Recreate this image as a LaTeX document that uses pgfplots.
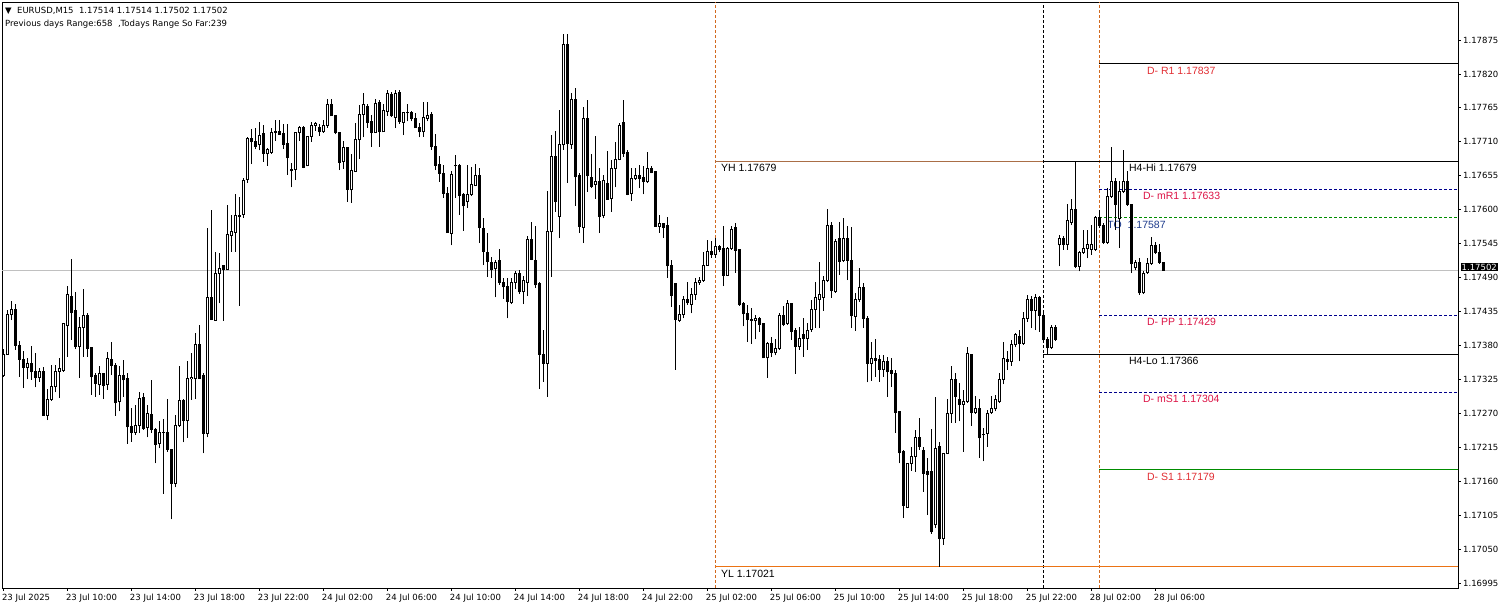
\documentclass[border=0pt]{standalone}
\usepackage{pgfplots}
\pgfplotsset{compat=1.18}
\usepackage{pgfplotstable}
\usepackage{fontspec}
\setmainfont{DejaVu Sans}
\newfontfamily\arialfont{Liberation Sans}
\definecolor{lvred}{RGB}{225,45,50}
\definecolor{lvcrim}{RGB}{220,20,70}
\definecolor{lvnavy}{RGB}{0,0,140}
\definecolor{lvgreen}{RGB}{0,140,0}
\definecolor{dayor}{RGB}{210,105,30}
\definecolor{yhcol}{RGB}{170,110,70}
\definecolor{ylcol}{RGB}{235,115,20}
\definecolor{tocol}{RGB}{30,60,140}
\definecolor{curgrey}{RGB}{192,192,192}

\pgfplotstableread{
i O H L C
0 1.17331 1.17374 1.17329 1.17366
1 1.17366 1.17437 1.17366 1.17430
2 1.17430 1.17452 1.17421 1.17439
3 1.17439 1.17447 1.17373 1.17380
4 1.17380 1.17388 1.17329 1.17358
5 1.17358 1.17371 1.17311 1.17345
6 1.17345 1.17360 1.17325 1.17351
7 1.17351 1.17379 1.17324 1.17337
8 1.17338 1.17368 1.17312 1.17328
9 1.17328 1.17344 1.17321 1.17338
10 1.17338 1.17345 1.17266 1.17267
11 1.17267 1.17309 1.17259 1.17293
12 1.17293 1.17349 1.17290 1.17313
13 1.17313 1.17348 1.17304 1.17338
14 1.17338 1.17359 1.17295 1.17342
15 1.17339 1.17417 1.17337 1.17415
16 1.17412 1.17476 1.17362 1.17463
17 1.17460 1.17520 1.17389 1.17433
18 1.17436 1.17466 1.17374 1.17378
19 1.17378 1.17426 1.17328 1.17409
20 1.17409 1.17471 1.17362 1.17428
21 1.17428 1.17432 1.17362 1.17375
22 1.17377 1.17378 1.17300 1.17329
23 1.17331 1.17336 1.17297 1.17318
24 1.17316 1.17346 1.17300 1.17335
25 1.17335 1.17335 1.17293 1.17315
26 1.17317 1.17369 1.17308 1.17359
27 1.17358 1.17385 1.17332 1.17348
28 1.17348 1.17351 1.17266 1.17287
29 1.17289 1.17346 1.17273 1.17331
30 1.17331 1.17356 1.17297 1.17324
31 1.17326 1.17335 1.17221 1.17248
32 1.17248 1.17278 1.17224 1.17239
33 1.17239 1.17284 1.17235 1.17251
34 1.17251 1.17305 1.17238 1.17294
35 1.17295 1.17303 1.17243 1.17246
36 1.17247 1.17284 1.17231 1.17270
37 1.17268 1.17324 1.17238 1.17244
38 1.17243 1.17246 1.17189 1.17220
39 1.17221 1.17258 1.17213 1.17239
40 1.17239 1.17260 1.17140 1.17239
41 1.17239 1.17293 1.17208 1.17212
42 1.17211 1.17212 1.17098 1.17157
43 1.17157 1.17268 1.17150 1.17251
44 1.17251 1.17347 1.17248 1.17291
45 1.17291 1.17294 1.17223 1.17258
46 1.17258 1.17354 1.17230 1.17327
47 1.17326 1.17367 1.17292 1.17328
48 1.17327 1.17400 1.17293 1.17382
49 1.17382 1.17413 1.17326 1.17327
50 1.17331 1.17335 1.17205 1.17238
51 1.17238 1.17571 1.17231 1.17458
52 1.17458 1.17600 1.17421 1.17422
53 1.17421 1.17532 1.17420 1.17497
54 1.17497 1.17529 1.17448 1.17505
55 1.17509 1.17510 1.17420 1.17503
56 1.17503 1.17608 1.17502 1.17560
57 1.17558 1.17591 1.17532 1.17564
58 1.17563 1.17625 1.17532 1.17590
59 1.17591 1.17621 1.17444 1.17589
60 1.17592 1.17652 1.17587 1.17647
61 1.17649 1.17718 1.17644 1.17716
62 1.17716 1.17730 1.17674 1.17710
63 1.17711 1.17732 1.17698 1.17703
64 1.17706 1.17742 1.17696 1.17721
65 1.17723 1.17737 1.17678 1.17691
66 1.17691 1.17700 1.17671 1.17697
67 1.17693 1.17733 1.17691 1.17725
68 1.17725 1.17745 1.17712 1.17726
69 1.17727 1.17745 1.17722 1.17722
70 1.17724 1.17739 1.17698 1.17706
71 1.17708 1.17739 1.17657 1.17684
72 1.17665 1.17675 1.17636 1.17663
73 1.17665 1.17726 1.17648 1.17725
74 1.17725 1.17736 1.17712 1.17733
75 1.17733 1.17736 1.17667 1.17669
76 1.17671 1.17719 1.17670 1.17719
77 1.17719 1.17742 1.17710 1.17737
78 1.17737 1.17742 1.17728 1.17739
79 1.17733 1.17739 1.17720 1.17726
80 1.17726 1.17746 1.17725 1.17737
81 1.17737 1.17780 1.17733 1.17771
82 1.17771 1.17780 1.17752 1.17752
83 1.17752 1.17753 1.17722 1.17725
84 1.17725 1.17725 1.17664 1.17677
85 1.17678 1.17712 1.17666 1.17700
86 1.17701 1.17701 1.17613 1.17633
87 1.17632 1.17691 1.17611 1.17663
88 1.17662 1.17740 1.17661 1.17713
89 1.17713 1.17769 1.17682 1.17755
90 1.17755 1.17789 1.17717 1.17770
91 1.17768 1.17771 1.17733 1.17741
92 1.17743 1.17753 1.17702 1.17725
93 1.17725 1.17779 1.17724 1.17772
94 1.17774 1.17778 1.17702 1.17726
95 1.17726 1.17771 1.17726 1.17761
96 1.17759 1.17794 1.17752 1.17789
97 1.17787 1.17790 1.17750 1.17752
98 1.17750 1.17794 1.17732 1.17789
99 1.17790 1.17794 1.17739 1.17743
100 1.17742 1.17759 1.17721 1.17758
101 1.17757 1.17771 1.17743 1.17757
102 1.17758 1.17760 1.17743 1.17747
103 1.17748 1.17756 1.17732 1.17733
104 1.17733 1.17740 1.17717 1.17726
105 1.17726 1.17774 1.17718 1.17750
106 1.17748 1.17774 1.17743 1.17752
107 1.17755 1.17758 1.17697 1.17702
108 1.17703 1.17722 1.17664 1.17672
109 1.17674 1.17687 1.17645 1.17659
110 1.17658 1.17672 1.17619 1.17627
111 1.17627 1.17637 1.17563 1.17563
112 1.17562 1.17663 1.17542 1.17657
113 1.17671 1.17689 1.17619 1.17671
114 1.17672 1.17674 1.17592 1.17623
115 1.17624 1.17627 1.17566 1.17606
116 1.17613 1.17672 1.17603 1.17625
117 1.17625 1.17670 1.17622 1.17641
118 1.17640 1.17674 1.17638 1.17655
119 1.17655 1.17667 1.17546 1.17571
120 1.17570 1.17586 1.17510 1.17532
121 1.17530 1.17562 1.17491 1.17516
122 1.17515 1.17524 1.17490 1.17503
123 1.17504 1.17518 1.17458 1.17515
124 1.17517 1.17537 1.17478 1.17482
125 1.17482 1.17489 1.17456 1.17475
126 1.17476 1.17489 1.17424 1.17452
127 1.17449 1.17490 1.17447 1.17482
128 1.17482 1.17501 1.17471 1.17496
129 1.17496 1.17502 1.17463 1.17467
130 1.17467 1.17492 1.17447 1.17485
131 1.17482 1.17557 1.17460 1.17551
132 1.17551 1.17580 1.17518 1.17520
133 1.17517 1.17573 1.17473 1.17478
134 1.17481 1.17482 1.17309 1.17366
135 1.17366 1.17405 1.17321 1.17351
136 1.17351 1.17630 1.17297 1.17564
137 1.17564 1.17721 1.17491 1.17687
138 1.17687 1.17727 1.17597 1.17613
139 1.17589 1.17761 1.17554 1.17705
140 1.17705 1.17885 1.17697 1.17867
141 1.17868 1.17885 1.17644 1.17708
142 1.17706 1.17789 1.17699 1.17778
143 1.17778 1.17797 1.17606 1.17653
144 1.17655 1.17659 1.17562 1.17573
145 1.17571 1.17767 1.17546 1.17748
146 1.17748 1.17777 1.17629 1.17655
147 1.17652 1.17691 1.17635 1.17638
148 1.17641 1.17719 1.17618 1.17646
149 1.17646 1.17667 1.17562 1.17589
150 1.17590 1.17656 1.17586 1.17648
151 1.17643 1.17695 1.17616 1.17617
152 1.17618 1.17680 1.17597 1.17667
153 1.17667 1.17710 1.17636 1.17682
154 1.17682 1.17741 1.17680 1.17737
155 1.17742 1.17777 1.17686 1.17691
156 1.17692 1.17697 1.17623 1.17625
157 1.17626 1.17667 1.17614 1.17651
158 1.17651 1.17667 1.17648 1.17655
159 1.17655 1.17672 1.17635 1.17651
160 1.17652 1.17670 1.17625 1.17645
161 1.17645 1.17694 1.17643 1.17667
162 1.17667 1.17671 1.17659 1.17660
163 1.17662 1.17663 1.17572 1.17573
164 1.17573 1.17591 1.17563 1.17578
165 1.17577 1.17578 1.17554 1.17571
166 1.17575 1.17588 1.17490 1.17509
167 1.17510 1.17518 1.17443 1.17461
168 1.17480 1.17482 1.17341 1.17422
169 1.17421 1.17446 1.17418 1.17430
170 1.17430 1.17460 1.17424 1.17455
171 1.17455 1.17482 1.17446 1.17449
172 1.17446 1.17473 1.17432 1.17463
173 1.17463 1.17489 1.17454 1.17482
174 1.17482 1.17491 1.17478 1.17486
175 1.17485 1.17532 1.17483 1.17510
176 1.17510 1.17551 1.17509 1.17533
177 1.17533 1.17550 1.17522 1.17527
178 1.17527 1.17554 1.17522 1.17541
179 1.17541 1.17543 1.17531 1.17536
180 1.17537 1.17573 1.17476 1.17494
181 1.17494 1.17540 1.17493 1.17537
182 1.17537 1.17573 1.17535 1.17568
183 1.17571 1.17579 1.17498 1.17534
184 1.17535 1.17535 1.17444 1.17446
185 1.17448 1.17451 1.17411 1.17431
186 1.17432 1.17446 1.17386 1.17422
187 1.17422 1.17440 1.17383 1.17421
188 1.17420 1.17429 1.17390 1.17424
189 1.17423 1.17426 1.17402 1.17414
190 1.17415 1.17416 1.17359 1.17360
191 1.17360 1.17386 1.17328 1.17383
192 1.17383 1.17393 1.17361 1.17369
193 1.17368 1.17390 1.17364 1.17375
194 1.17375 1.17432 1.17373 1.17429
195 1.17429 1.17444 1.17411 1.17414
196 1.17416 1.17454 1.17413 1.17448
197 1.17448 1.17448 1.17389 1.17403
198 1.17405 1.17408 1.17334 1.17378
199 1.17378 1.17410 1.17373 1.17392
200 1.17397 1.17424 1.17362 1.17392
201 1.17392 1.17417 1.17373 1.17405
202 1.17406 1.17454 1.17402 1.17439
203 1.17439 1.17482 1.17409 1.17458
204 1.17455 1.17516 1.17408 1.17462
205 1.17458 1.17492 1.17436 1.17486
206 1.17486 1.17601 1.17482 1.17575
207 1.17575 1.17580 1.17457 1.17469
208 1.17467 1.17552 1.17465 1.17548
209 1.17554 1.17580 1.17494 1.17516
210 1.17517 1.17586 1.17515 1.17554
211 1.17554 1.17573 1.17486 1.17518
212 1.17518 1.17572 1.17409 1.17428
213 1.17427 1.17465 1.17404 1.17455
214 1.17454 1.17505 1.17451 1.17474
215 1.17474 1.17481 1.17408 1.17424
216 1.17423 1.17428 1.17320 1.17351
217 1.17351 1.17386 1.17323 1.17359
218 1.17359 1.17390 1.17329 1.17356
219 1.17358 1.17364 1.17321 1.17341
220 1.17341 1.17364 1.17329 1.17354
221 1.17354 1.17362 1.17297 1.17337
222 1.17339 1.17359 1.17313 1.17335
223 1.17335 1.17341 1.17238 1.17271
224 1.17273 1.17273 1.17189 1.17206
225 1.17208 1.17211 1.17100 1.17121
226 1.17118 1.17189 1.17116 1.17189
227 1.17189 1.17216 1.17177 1.17200
228 1.17200 1.17243 1.17175 1.17231
229 1.17230 1.17262 1.17211 1.17216
230 1.17209 1.17216 1.17143 1.17173
231 1.17175 1.17197 1.17105 1.17171
232 1.17175 1.17244 1.17075 1.17078
233 1.17089 1.17297 1.17084 1.17213
234 1.17216 1.17224 1.17021 1.17067
235 1.17067 1.17206 1.17057 1.17205
236 1.17205 1.17294 1.17204 1.17270
237 1.17270 1.17347 1.17255 1.17325
238 1.17324 1.17336 1.17255 1.17297
239 1.17293 1.17319 1.17257 1.17285
240 1.17285 1.17307 1.17208 1.17289
241 1.17289 1.17377 1.17287 1.17367
242 1.17366 1.17366 1.17250 1.17271
243 1.17271 1.17298 1.17269 1.17278
244 1.17278 1.17293 1.17198 1.17230
245 1.17235 1.17246 1.17192 1.17235
246 1.17238 1.17275 1.17216 1.17270
247 1.17271 1.17298 1.17269 1.17278
248 1.17277 1.17300 1.17273 1.17292
249 1.17289 1.17335 1.17287 1.17325
250 1.17325 1.17386 1.17317 1.17359
251 1.17358 1.17371 1.17340 1.17354
252 1.17354 1.17389 1.17347 1.17381
253 1.17381 1.17400 1.17377 1.17397
254 1.17394 1.17405 1.17354 1.17383
255 1.17383 1.17434 1.17381 1.17424
256 1.17424 1.17462 1.17418 1.17454
257 1.17454 1.17460 1.17408 1.17437
258 1.17437 1.17463 1.17405 1.17457
259 1.17457 1.17460 1.17402 1.17429
260 1.17429 1.17432 1.17384 1.17389
261 1.17389 1.17394 1.17366 1.17376
262 1.17376 1.17413 1.17374 1.17409
263 1.17409 1.17413 1.17387 1.17390
264 1.17543 1.17559 1.17508 1.17554
265 1.17554 1.17557 1.17535 1.17544
266 1.17544 1.17609 1.17535 1.17582
267 1.17580 1.17618 1.17575 1.17601
268 1.17601 1.17679 1.17505 1.17508
269 1.17508 1.17533 1.17500 1.17531
270 1.17531 1.17567 1.17528 1.17537
271 1.17537 1.17567 1.17521 1.17543
272 1.17536 1.17575 1.17527 1.17544
273 1.17536 1.17589 1.17533 1.17587
274 1.17587 1.17600 1.17570 1.17574
275 1.17575 1.17578 1.17544 1.17547
276 1.17547 1.17635 1.17544 1.17621
277 1.17621 1.17701 1.17619 1.17646
278 1.17646 1.17651 1.17567 1.17609
279 1.17585 1.17646 1.17538 1.17630
280 1.17630 1.17697 1.17627 1.17645
281 1.17645 1.17662 1.17606 1.17608
282 1.17608 1.17609 1.17497 1.17512
283 1.17507 1.17518 1.17502 1.17515
284 1.17515 1.17521 1.17462 1.17465
285 1.17465 1.17500 1.17463 1.17497
286 1.17498 1.17521 1.17496 1.17513
287 1.17513 1.17555 1.17510 1.17542
288 1.17542 1.17548 1.17528 1.17531
289 1.17531 1.17545 1.17512 1.17515
290 1.17514 1.17514 1.17502 1.17502
}\candles

\begin{document}
\begin{tikzpicture}
\path[use as bounding box] (-2pt,-21pt) rectangle (1503pt,588pt);
\begin{axis}[
  scale only axis, width=1456pt, height=586pt,
  xmin=-0.325, xmax=363.675, ymin=1.169869, ymax=1.179366,
  clip=false,
  axis line style={black, line width=0.8pt},
  tick align=outside,
  major tick length=3pt,
  tick style={black, line width=0.8pt},
  xtick pos=left, ytick pos=right,
  yticklabel pos=right,
  xtick={0,16,...,288},
  xticklabels={23 Jul 2025,23 Jul 10:00,23 Jul 14:00,23 Jul 18:00,23 Jul 22:00,24 Jul 02:00,24 Jul 06:00,24 Jul 10:00,24 Jul 14:00,24 Jul 18:00,24 Jul 22:00,25 Jul 02:00,25 Jul 06:00,25 Jul 10:00,25 Jul 14:00,25 Jul 18:00,25 Jul 22:00,28 Jul 02:00,28 Jul 06:00},
  ytick={1.16995,1.17050,1.17105,1.17160,1.17215,1.17270,1.17325,1.17380,1.17435,1.17490,1.17545,1.17600,1.17655,1.17710,1.17765,1.17820,1.17875},
  yticklabels={1.16995,1.17050,1.17105,1.17160,1.17215,1.17270,1.17325,1.17380,1.17435,1.17490,1.17545,1.17600,1.17655,1.17710,1.17765,1.17820,1.17875},
  x tick label style={anchor=north west, inner sep=0pt, xshift=-1.5pt, yshift=-3pt, font=\fontsize{8.5}{10}\selectfont},
  y tick label style={anchor=west, inner sep=0pt, xshift=2pt, font=\fontsize{8.5}{10}\selectfont},
]
% current price line
\addplot[curgrey, line width=1pt] coordinates {(-0.325,1.17502) (363.675,1.17502)};
% vertical separators
\addplot[dayor, line width=0.8pt, dash pattern=on 3pt off 2pt] coordinates {(178,1.169869) (178,1.179366)};
\addplot[black, line width=0.8pt, dash pattern=on 3pt off 2pt] coordinates {(260,1.169869) (260,1.179366)};
\addplot[dayor, line width=0.8pt, dash pattern=on 3pt off 2pt] coordinates {(274,1.169869) (274,1.179366)};
% level lines
\addplot[yhcol, line width=0.8pt] coordinates {(178,1.17679) (363.675,1.17679)};
\addplot[ylcol, line width=1pt] coordinates {(178,1.17021) (363.675,1.17021)};
\addplot[black, line width=0.8pt] coordinates {(260,1.17679) (363.675,1.17679)};
\addplot[black, line width=0.8pt] coordinates {(260,1.17366) (363.675,1.17366)};
\addplot[black, line width=0.8pt] coordinates {(274,1.17837) (363.675,1.17837)};
\addplot[lvnavy, line width=0.8pt, dash pattern=on 3pt off 2pt] coordinates {(274,1.17633) (363.675,1.17633)};
\addplot[lvgreen, line width=0.8pt, dash pattern=on 3pt off 2pt] coordinates {(274,1.17587) (363.675,1.17587)};
\addplot[lvnavy, line width=0.8pt, dash pattern=on 3pt off 2pt] coordinates {(274,1.17429) (363.675,1.17429)};
\addplot[lvnavy, line width=0.8pt, dash pattern=on 3pt off 2pt] coordinates {(274,1.17304) (363.675,1.17304)};
\addplot[lvgreen, line width=0.8pt] coordinates {(274,1.17179) (363.675,1.17179)};
% level labels
\begin{scope}[every node/.style={anchor=west, inner sep=0pt, yshift=-7pt, font=\arialfont\fontsize{10.5}{12}\selectfont}]
\node[text=lvred] at (axis cs:285.9,1.17837) {D- R1 1.17837};
\node[text=lvcrim] at (axis cs:284.9,1.17633) {D- mR1 1.17633};
\node[text=tocol] at (axis cs:276,1.17587) {TO\ \ 1.17587};
\node[text=lvcrim] at (axis cs:285.9,1.17429) {D- PP 1.17429};
\node[text=lvcrim] at (axis cs:284.9,1.17304) {D- mS1 1.17304};
\node[text=lvred] at (axis cs:285.9,1.17179) {D- S1 1.17179};
\node[text=black] at (axis cs:281.4,1.17679) {H4-Hi 1.17679};
\node[text=black] at (axis cs:281.4,1.17366) {H4-Lo 1.17366};
\node[text=black] at (axis cs:179.4,1.17679) {YH 1.17679};
\node[text=black] at (axis cs:179.4,1.17021) {YL 1.17021};
\end{scope}
% candles: wicks
\addplot[draw=none, no markers,
  error bars/.cd, y dir=plus, y explicit, error mark=none,
  error bar style={draw=black, solid, line width=1pt}]
  table[x=i, y=L, y error expr=\thisrow{H}-\thisrow{L}] {\candles};
% bodies
\addplot[draw=none, no markers,
  error bars/.cd, y dir=plus, y explicit, error mark=none,
  error bar style={draw=black, solid, line width=3pt}]
  table[x=i, y expr={min(\thisrow{O},\thisrow{C})-0.0000081}, y error expr={abs(\thisrow{C}-\thisrow{O})+0.0000162}] {\candles};
% hollow interior of bullish bodies
\addplot[draw=none, no markers,
  error bars/.cd, y dir=plus, y explicit, error mark=none,
  error bar style={draw=white, solid, line width=1pt}]
  table[x=i, y expr={\thisrow{C}-\thisrow{O}>0.000017 ? \thisrow{O}+0.0000081 : nan}, y error expr={\thisrow{C}-\thisrow{O}-0.0000162}] {\candles};
% header
\node[anchor=north west, inner sep=0pt, font=\fontsize{8.5}{10}\selectfont] at (rel axis cs:0,1) [xshift=3pt, yshift=-5pt] {▼\ \ EURUSD,M15\ \ 1.17514 1.17514 1.17502 1.17502};
\node[anchor=north west, inner sep=0pt, font=\fontsize{8.5}{10}\selectfont] at (rel axis cs:0,1) [xshift=3pt, yshift=-18pt] {Previous days Range:658\ \ ,Todays Range So Far:239};
% current price box
\node[anchor=west, fill=black, text=white, inner sep=1pt, font=\fontsize{8.5}{10}\selectfont] at (axis cs:363.675,1.17502) [xshift=2.5pt, yshift=3pt] {1.17502};
\end{axis}
\end{tikzpicture}
\end{document}
